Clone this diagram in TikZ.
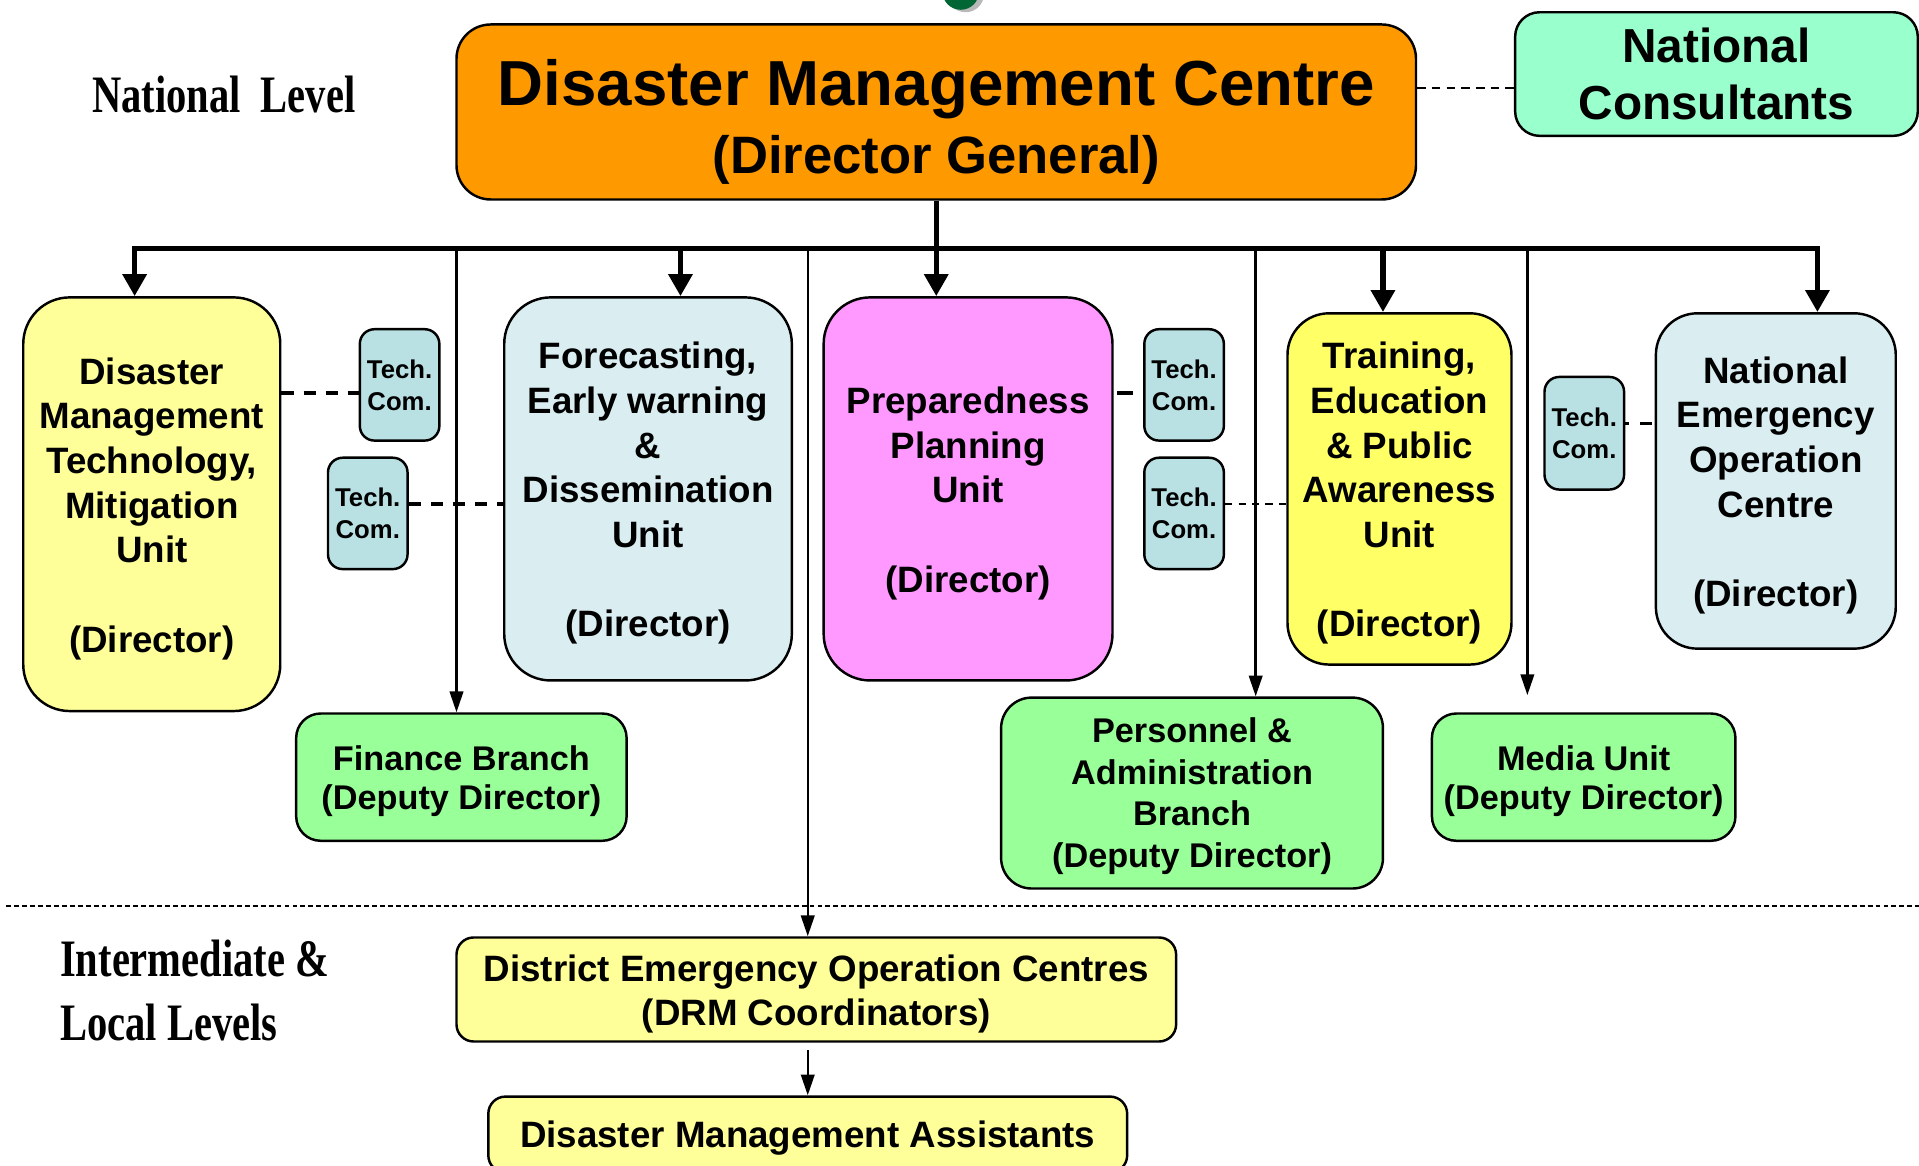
\documentclass[tikz,border=0pt]{standalone}
\usepackage{fontspec}
\setmainfont{Liberation Sans}
\newfontfamily\lvlfont{Liberation Serif}
\usepackage{graphicx}
\usetikzlibrary{arrows.meta}
\definecolor{cOrange}{HTML}{FF9900}
\definecolor{cMint}{HTML}{99FFCC}
\definecolor{cLY}{HTML}{FFFF99}
\definecolor{cY}{HTML}{FFFF66}
\definecolor{cBlue}{HTML}{DAEEF2}
\definecolor{cPink}{HTML}{FF99FF}
\definecolor{cGreen}{HTML}{99FF99}
\definecolor{cTech}{HTML}{B9E0E3}
\definecolor{cLogo}{HTML}{006633}
\tikzset{
  box/.style={draw=black, line width=2pt, inner sep=0pt, align=center, text=black},
  unitfont/.style={font=\bfseries\fontsize{30}{36.5}\selectfont},
  greenfont/.style={font=\bfseries\fontsize{28}{32}\selectfont},
  techbox/.style={box, fill=cTech, rounded corners=12pt, minimum width=65pt, minimum height=91pt,
    font=\bfseries\fontsize{21}{26}\selectfont},
  bigunit/.style={box, unitfont, rounded corners=38pt},
  greenbox/.style={box, greenfont, fill=cGreen, rounded corners=20pt},
  thk/.style={line width=4.5pt, line join=miter},
  thkarr/.style={thk, -{Triangle[width=19pt,length=18pt]}},
  thnarr/.style={line width=2pt, -{Triangle[width=11pt,length=17pt]}},
  dshthick/.style={line width=3pt, dash pattern=on 10pt off 8pt},
  dshthin/.style={line width=2pt, dash pattern=on 6pt off 5pt},
  lvl/.style={anchor=base west, inner sep=0pt},
}
\newcommand{\lvltext}[1]{\scalebox{0.77}[1]{\lvlfont\bfseries\fontsize{43}{50}\selectfont #1}}
\newcommand{\topstrut}[1]{\rule{0pt}{#1}}
\begin{document}
\begin{tikzpicture}[x=1pt,y=-1pt]
\useasboundingbox (0,0) rectangle (1568,952);
\clip (0,0) rectangle (1568,952);
% partial logo at top edge
\fill[gray!55] (789,-5) ellipse (15pt and 15pt);
\fill[cLogo] (785,-7) ellipse (15pt and 15pt);

% level labels
\node[lvl] (natlvl) at (75,92) {\lvltext{National\ \ Level}};
\node[lvl] (intlvl) at (49,798) {\lvltext{Intermediate \&}};
\node[lvl] (loclvl) at (49,850.5) {\lvltext{Local Levels}};

% top
\node[box, fill=cOrange, rounded corners=28pt, minimum width=784pt, minimum height=143pt] (main) at (765,91.5) {};
\node[align=center, inner sep=0pt, font=\bfseries] (maintxt) at ([yshift=-8pt]main.center)
  {\fontsize{52}{58}\selectfont Disaster Management Centre\\[12pt]\fontsize{43}{58}\selectfont (Director General)};
\node[box, fill=cMint, rounded corners=20pt, minimum width=329pt, minimum height=101pt,
  font=\bfseries\fontsize{39}{46}\selectfont] (nc) at (1402.5,60.5) {National\\Consultants};

% units
\node[bigunit, fill=cLY, minimum width=210pt, minimum height=338pt] (dmt) at (124,412)
  {\topstrut{29pt}Disaster\\Management\\Technology,\\Mitigation\\Unit\\[36.5pt](Director)};
\node[bigunit, fill=cBlue, minimum width=235pt, minimum height=313pt] (few) at (529.5,399.5)
  {\topstrut{29pt}Forecasting,\\Early warning\\\&\\Dissemination\\Unit\\[36.5pt](Director)};
\node[bigunit, fill=cPink, minimum width=236pt, minimum height=313pt] (ppu) at (791,399.5)
  {\topstrut{29pt}Preparedness\\Planning\\Unit\\[36.5pt](Director)};
\node[bigunit, fill=cY, rounded corners=34pt, minimum width=183pt, minimum height=287pt] (tep) at (1143.5,399.5)
  {\topstrut{29pt}Training,\\Education\\\& Public\\Awareness\\Unit\\[36.5pt](Director)};
\node[bigunit, fill=cBlue, rounded corners=34pt, minimum width=196pt, minimum height=274pt] (neoc) at (1451,393)
  {\topstrut{29pt}National\\Emergency\\Operation\\Centre\\[36.5pt](Director)};

% tech committees
\node[techbox] (tca) at (326.5,314.5) {Tech.\\Com.};
\node[techbox] (tcb) at (300.5,419.5) {Tech.\\Com.};
\node[techbox] (tcc) at (967.5,314.5) {Tech.\\Com.};
\node[techbox] (tcd) at (967.5,419.5) {Tech.\\Com.};
\node[techbox, minimum height=92pt] (tce) at (1294.5,354) {Tech.\\Com.};

% branches
\node[greenbox, minimum width=270pt, minimum height=104pt] (fin) at (377,635) {\topstrut{26.5pt}Finance Branch\\(Deputy Director)};
\node[greenbox, rounded corners=25pt, minimum width=312pt, minimum height=156pt,
  font=\bfseries\fontsize{28}{34}\selectfont] (pers) at (974,648) {\topstrut{25.5pt}Personnel \&\\Administration\\Branch\\(Deputy Director)};
\node[greenbox, minimum width=248pt, minimum height=104pt] (media) at (1294,635) {\topstrut{26.5pt}Media Unit\\(Deputy Director)};

% separator
\coordinate (sepL) at (5,740);
\coordinate (sepR) at (1568,740);
\draw[line width=1.5pt, dash pattern=on 4pt off 2.5pt] (sepL) -- (sepR);

% local level
\node[box, fill=cLY, rounded corners=14pt, minimum width=588pt, minimum height=85pt,
  font=\bfseries\fontsize{30}{36}\selectfont] (deoc) at (667,808.5) {\topstrut{29pt}District Emergency Operation Centres\\(DRM Coordinators)};
\node[box, fill=cLY, rounded corners=14pt, minimum width=522pt, minimum height=62pt,
  font=\bfseries\fontsize{30}{36}\selectfont] (dma) at (660,927) {\topstrut{28pt}Disaster Management Assistants};

% bus and arrows
\coordinate (bL) at (110,203);
\coordinate (bR) at (1485,203);
\coordinate (bM) at (765,203);
\coordinate (bFew) at (556,203);
\coordinate (bTep) at (1130,203);
\coordinate (bFin) at (373,203);
\coordinate (bDeoc) at (660,203);
\coordinate (bPers) at (1026,203);
\coordinate (bMed) at (1248,203);
\coordinate (medEnd) at (1248,568);

\draw[thnarr] (bFin) -- (bFin |- fin.north);
\draw[thnarr] (bDeoc) -- (bDeoc |- deoc.north);
\draw[thnarr] (bPers) -- (bPers |- pers.north);
\draw[thnarr] (bMed) -- (medEnd);
\draw[thnarr] ([yshift=-6pt]dma.north |- deoc.south) -- (dma.north);

\draw[thkarr] (bM) -- (bL) -- (bL |- dmt.north);
\draw[thkarr] (bM) -- (bR) -- (bR |- neoc.north);
\draw[thkarr] (main.south) -- (main.south |- ppu.north);
\draw[thkarr] (bFew) -- (bFew |- few.north);
\draw[thkarr] (bTep) -- (bTep |- tep.north);

% dashed links
\draw[dshthin, dash pattern=on 7pt off 5pt] (main.east |- 0,72) -- (nc.west |- 0,72);
\draw[dshthick] (dmt.east |- 0,321) -- (tca.west |- 0,321);
\draw[dshthick] (tcb.east |- 0,412) -- (few.west |- 0,412);
\draw[line width=3pt, dash pattern=on 13pt off 13pt, shorten <=3pt] (ppu.east |- 0,321) -- (tcc.west |- 0,321);
\draw[dshthin] (tcd.east |- 0,412) -- (tep.west |- 0,412);
\draw[line width=3pt, dash pattern=on 3pt off 9pt on 10pt off 10pt] (tce.east |- 0,346) -- (neoc.west |- 0,346);
\end{tikzpicture}
\end{document}
